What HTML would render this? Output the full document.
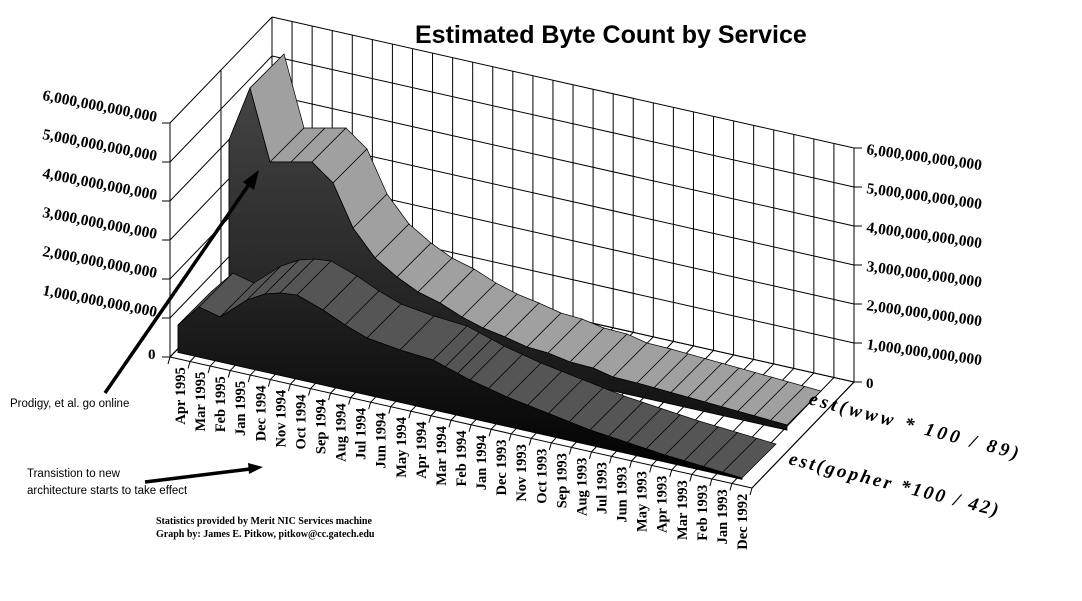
<!DOCTYPE html>
<html><head><meta charset="utf-8"><style>
html,body{margin:0;padding:0;background:#fff;}
svg{display:block;}
</style></head><body>
<svg id="s" width="1082" height="601" viewBox="0 0 1082 601" xmlns="http://www.w3.org/2000/svg">
<defs>
<linearGradient id="gw" x1="0" y1="0" x2="0" y2="1"><stop offset="0" stop-color="#444"/><stop offset="1" stop-color="#111"/></linearGradient>
<linearGradient id="gg" x1="0" y1="0" x2="0" y2="1"><stop offset="0" stop-color="#222"/><stop offset="1" stop-color="#000"/></linearGradient>
</defs>
<g id="grid" stroke="#000" stroke-width="1" fill="none"></g>
<g id="series"></g>
<g id="labels" font-family="'Liberation Serif',serif" font-weight="bold" font-size="12" fill="#000"></g>
<text x="415" y="43" font-family="'Liberation Sans',sans-serif" font-weight="bold" font-size="25">Estimated Byte Count by Service</text>
<text transform="translate(808,404) rotate(14.8)" font-family="'Liberation Serif',serif" font-weight="bold" font-style="italic" font-size="19" letter-spacing="3.5">est(www * 100 / 89)</text>
<text transform="translate(788,464) rotate(14)" font-family="'Liberation Serif',serif" font-weight="bold" font-style="italic" font-size="19" letter-spacing="2.5">est(gopher *100 / 42)</text>
<g font-family="'Liberation Sans',sans-serif" font-size="11.5">
<text x="10" y="407">Prodigy, et al. go online</text>
<text x="27" y="477">Transistion to new</text>
<text x="27" y="494">architecture starts to take effect</text>
</g>
<g font-family="'Liberation Serif',serif" font-weight="bold" font-size="10">
<text x="156" y="524">Statistics provided by Merit NIC Services machine</text>
<text x="156" y="537">Graph by: James E. Pitkow, pitkow@cc.gatech.edu</text>
</g>
<g stroke="#000" stroke-width="3.5">
<line x1="105" y1="393" x2="250" y2="183"/>
<line x1="145" y1="482" x2="250" y2="469"/>
</g>
<polygon points="259,170 243,182 254,190" fill="#000"/>
<polygon points="263,467 248,463 249,474" fill="#000"/>
</svg>
<script>
var NS="http://www.w3.org/2000/svg";
function el(p,t,a){var e=document.createElementNS(NS,t);for(var k in a)e.setAttribute(k,a[k]);p.appendChild(e);return e;}
var grid=document.getElementById('grid'),ser=document.getElementById('series'),lab=document.getElementById('labels');
var FL=[170,357],FR=[752,488],D=[102,-106],U=39;
function fl(t){return [FL[0]+(FR[0]-FL[0])*t,FL[1]+(FR[1]-FL[1])*t];}
var BL=[FL[0]+D[0],FL[1]+D[1]],BR=[FR[0]+D[0],FR[1]+D[1]];
function L(a,b){el(grid,'line',{x1:a[0],y1:a[1],x2:b[0],y2:b[1]});}
L(FL,FR);L(FL,BL);L(FR,BR);L(BL,BR);
var N=29;
for(var i=0;i<=N;i++){var p=fl(i/N);var q=[p[0]+D[0],p[1]+D[1]];L(p,q);L(q,[q[0],q[1]-6*U]);L(p,[p[0]-2,p[1]+7]);}
for(var k=0;k<=6;k++){L([BL[0],BL[1]-k*U],[BR[0],BR[1]-k*U]);L([FL[0],FL[1]-k*U],[BL[0],BL[1]-k*U]);L([FL[0]-8,FL[1]-k*U],[FL[0],FL[1]-k*U]);L([BR[0],BR[1]-k*U],[BR[0]+8,BR[1]-k*U]);}
L(FL,[FL[0],FL[1]-6*U]);L([FL[0]+D[0]/2,FL[1]+D[1]/2],[FL[0]+D[0]/2,FL[1]+D[1]/2-6*U]);L(BL,[BL[0],BL[1]-6*U]);
var vals=['0','1,000,000,000,000','2,000,000,000,000','3,000,000,000,000','4,000,000,000,000','5,000,000,000,000','6,000,000,000,000'];
for(var k=0;k<=6;k++){
 if(k==0){el(lab,'text',{x:148,y:FL[1]+2,'font-size':15}).textContent='0';el(lab,'text',{x:866,y:BR[1]+6,'font-size':15}).textContent='0';continue;}
 var y=FL[1]-k*U;
 var t=el(lab,'text',{transform:'translate(156,'+(y-1)+') rotate(11)','text-anchor':'end','font-size':15.5});t.textContent=vals[k];
 var y2=BR[1]-k*U;
 var t2=el(lab,'text',{transform:'translate(866,'+(y2+6)+') rotate(8)','font-size':15.5});t2.textContent=vals[k];
}
var mon=['Dec','Nov','Oct','Sep','Aug','Jul','Jun','May','Apr','Mar','Feb','Jan'];
var cats=['Apr 1995','Mar 1995','Feb 1995','Jan 1995'];
for(var y of [1994,1993])for(var m of mon)cats.push(m+' '+y);
cats.push('Dec 1992');
for(var i=0;i<N;i++){var p=fl((i+0.5)/N);var t=el(lab,'text',{transform:'translate('+(p[0]+5)+','+(p[1]+8)+') rotate(-90)','text-anchor':'end','font-size':14.5});t.textContent=cats[i];}
function interp(pts,n){
 var out=[];for(var i=0;i<n;i++){for(var j=0;j<pts.length-1;j++){if(i>=pts[j][0]&&i<=pts[j+1][0]){var a=pts[j],b=pts[j+1],f=(i-a[0])/(b[0]-a[0]||1);out.push([a[1]+(b[1]-a[1])*f,a[2]+(b[2]-a[2])*f]);break;}}}return out;}
var www=interp([[0,229,140],[1,250,88],[2,270,162],[3,291,162],[4,312,162],[5,333,183],[6,353,228],[7,375,258],[8,397,277],[9,418,292],[10,440,303],[11,462,317],[12,483,328],[13,505,337],[14,527,347],[15,548,353],[16,570,362],[17,593,368],[18,613,377],[19,637,383],[23,705,402],[28,787,425]],29);
var gop=interp([[0,178,325],[1,199,307],[2,220,317],[3,247,300],[4,265,294],[5,280,293],[6,297,295],[7,323,310],[8,345,325],[9,367,338],[10,400,350],[11,433,360],[14,470,380],[16,507,397],[20,590,430],[24,665,455],[28,742,478]],29);
function floorY(x){return FL[1]+(FR[1]-FL[1])*(x-FL[0])/(FR[0]-FL[0]);}
function ribbon(pts,top,front,dd){
 var d=[34,-34];
 var p0=pts[0],b0=[p0[0],floorY(p0[0]-dd[0])+dd[1]];
 el(ser,'polygon',{points:[p0,[p0[0]+d[0],p0[1]+d[1]],[b0[0]+d[0],b0[1]+d[1]],b0].join(' '),fill:'#333',stroke:'#000','stroke-width':0.6});
 for(var i=0;i<pts.length-1;i++){var a=pts[i],b=pts[i+1];
  el(ser,'polygon',{points:[a,b,[b[0]+d[0],b[1]+d[1]],[a[0]+d[0],a[1]+d[1]]].join(' '),fill:top,stroke:'#000','stroke-width':0.7});}
 var poly=pts.slice();var last=pts[pts.length-1];
 poly.push([last[0],floorY(last[0]-dd[0])+dd[1]]);poly.push(b0);
 el(ser,'polygon',{points:poly.join(' '),fill:front,stroke:'#000','stroke-width':0.8});
}
ribbon(www,'#a0a0a0','url(#gw)',[52,-54]);
ribbon(gop,'#555555','url(#gg)',[6,-5]);
</script>
</body></html>
